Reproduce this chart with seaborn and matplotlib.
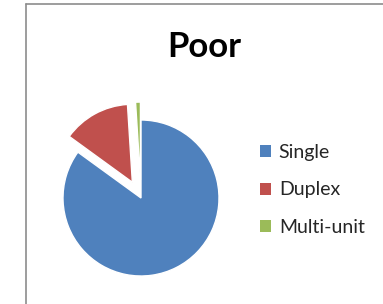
import matplotlib
matplotlib.use("Agg")
import matplotlib.pyplot as plt
import seaborn as sns
from matplotlib.lines import Line2D
from matplotlib.patches import Patch

categories = ["Single", "Duplex", "Multi-unit"]
values = [85.0, 14.0, 1.0]
explode_amt = [0.0, 0.23, 0.23]
title = "Poor"

sns.set_style("white")
plt.rcParams['font.family'] = ['Lato', 'DejaVu Sans']
colors = ["#4F81BD", "#C0504D", "#9BBB59"]
sns.set_palette(colors)

fig = plt.figure(figsize=(3.83, 3.04), dpi=100)
ax = fig.add_axes([43.5 / 383, 8.5 / 304, 195 / 383, 195 / 304])
wedges, _ = ax.pie(values, explode=explode_amt, colors=sns.color_palette(),
                   startangle=90, counterclock=False,
                   wedgeprops=dict(edgecolor="white", linewidth=1.0))

fig.text(204 / 383, 1 - 47 / 304, title, ha="center", va="center",
         fontsize=25, fontweight="bold", color="black")

handles = [Patch(facecolor=c, edgecolor="none") for c in colors]
fig.legend(handles, categories, loc="center left",
           bbox_to_anchor=(250 / 383, 1 - 190 / 304), frameon=False,
           fontsize=14, handlelength=0.58, handleheight=0.58,
           handletextpad=0.4, labelspacing=1.05, borderpad=0)

# outer chart border (left and top visible)
fig.add_artist(Line2D([25.5 / 383, 25.5 / 383], [0, 1 - 4 / 304],
                      transform=fig.transFigure, color="#8c8c8c", linewidth=1.2))
fig.add_artist(Line2D([25.5 / 383, 1], [1 - 4 / 304, 1 - 4 / 304],
                      transform=fig.transFigure, color="#8c8c8c", linewidth=1.2))

fig.savefig("out.png", dpi=100)
